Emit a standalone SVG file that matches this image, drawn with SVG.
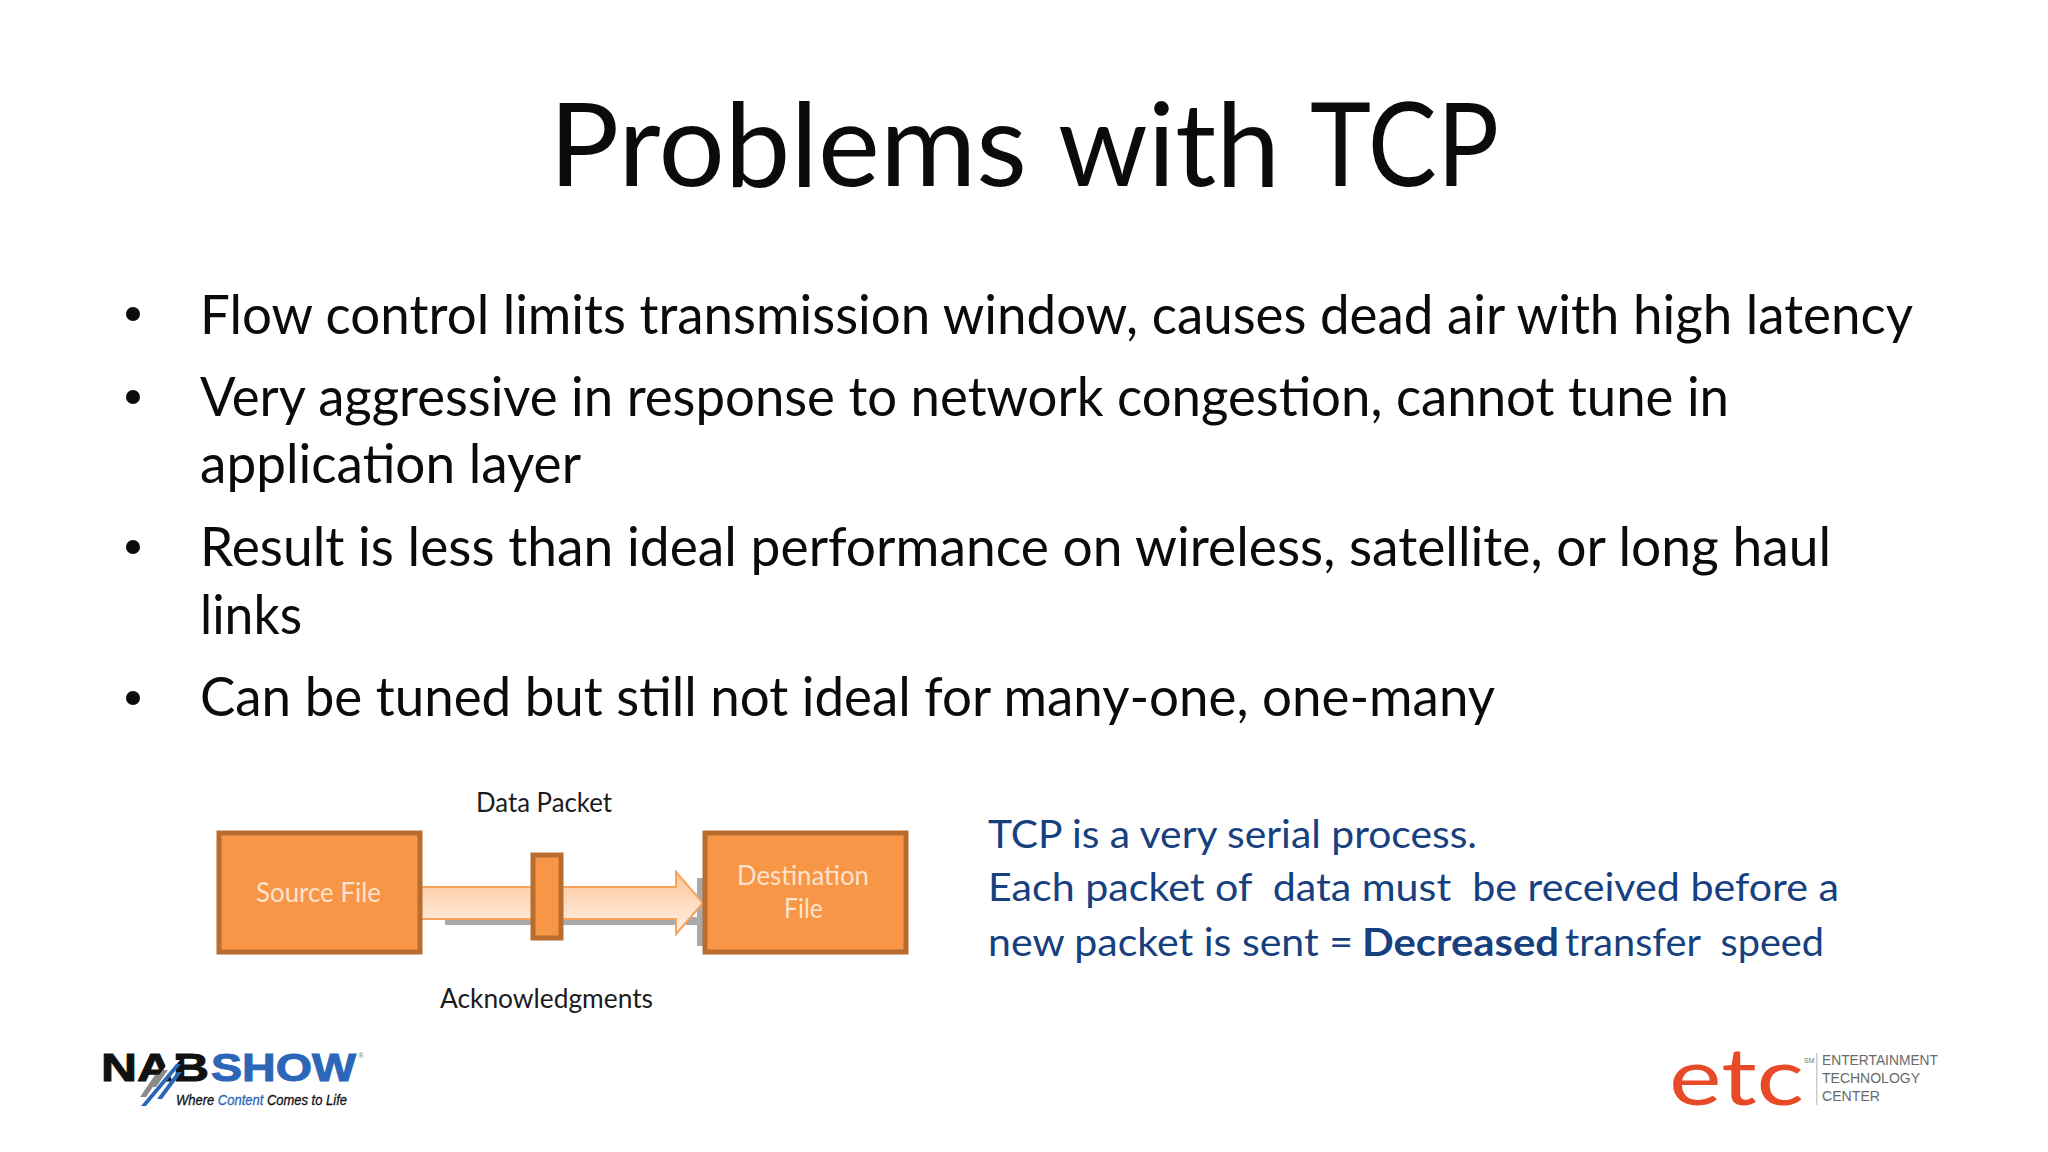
<svg xmlns="http://www.w3.org/2000/svg" width="2048" height="1152" viewBox="0 0 2048 1152">
<style>
text{font-family:Lato,"Open Sans","Liberation Sans",sans-serif}
.b{font-size:54px;fill:#0b0b0b}
.d{font-size:27px;fill:#1c1c1c}
.w{font-size:27px;fill:#fde3cc}
.s{font-size:39px;fill:#17407f}
.box{fill:#f79646;stroke:#b86c2e;stroke-width:5}
.e{font-size:15.500px;fill:#6a6a6a;font-family:"Liberation Sans",sans-serif}
.l{font-family:"Liberation Sans",sans-serif}
</style>
<defs>
<linearGradient id="ar" x1="0" y1="0" x2="0" y2="1"><stop offset="0" stop-color="#fbc596"/><stop offset="1" stop-color="#fff3e8"/></linearGradient>
</defs>
<rect width="2048" height="1152" fill="#fff"/>
<text y="186" font-size="117" fill="#0b0b0b"><tspan x="549" textLength="478" lengthAdjust="spacingAndGlyphs">Problems</tspan> <tspan x="1058" textLength="222" lengthAdjust="spacingAndGlyphs">with</tspan> <tspan x="1310" textLength="189" lengthAdjust="spacingAndGlyphs">TCP</tspan></text>
<g id="bullets">
<circle cx="133" cy="314" r="7" fill="#0b0b0b"/><circle cx="133" cy="397" r="7" fill="#0b0b0b"/><circle cx="133" cy="547" r="7" fill="#0b0b0b"/><circle cx="133" cy="698" r="7" fill="#0b0b0b"/>
<text class="b" x="200" y="334" textLength="1713" lengthAdjust="spacingAndGlyphs">Flow control limits transmission window, causes dead air with high latency</text>
<text class="b" x="200" y="416" textLength="1529" lengthAdjust="spacingAndGlyphs">Very aggressive in response to network congestion, cannot tune in</text>
<text class="b" x="200" y="483" textLength="381" lengthAdjust="spacingAndGlyphs">application layer</text>
<text class="b" x="200" y="566" textLength="1631" lengthAdjust="spacingAndGlyphs">Result is less than ideal performance on wireless, satellite, or long haul</text>
<text class="b" x="200" y="634" textLength="102" lengthAdjust="spacingAndGlyphs">links</text>
<text class="b" x="200" y="716" textLength="1295" lengthAdjust="spacingAndGlyphs">Can be tuned but still not ideal for many-one, one-many</text>
</g>
<g id="connectors">
<path d="M445 917H700V925H445Z" fill="#a9a9a9"/>
<path d="M697 878L704 878V946H697Z" fill="#a9a9a9"/>
<path d="M419 887H676V872L703 903L676 934V919H419Z" fill="url(#ar)" stroke="#f8a35c" stroke-width="2"/>
</g>
<g id="source-file">
<rect class="box" x="219" y="833" width="201" height="119"/>
<text class="w" x="256" y="902" textLength="125" lengthAdjust="spacingAndGlyphs">Source File</text>
</g>
<g id="data-packet">
<rect class="box" x="533" y="855" width="28" height="83"/>
<text class="d" x="476" y="812" textLength="136" lengthAdjust="spacingAndGlyphs">Data Packet</text>
</g>
<g id="destination-file">
<rect class="box" x="705" y="833" width="201" height="119"/>
<text class="w" x="737" y="885" textLength="132" lengthAdjust="spacingAndGlyphs">Destination</text>
<text class="w" x="784" y="918" textLength="39" lengthAdjust="spacingAndGlyphs">File</text>
</g>
<text class="d" x="440" y="1008" textLength="213" lengthAdjust="spacingAndGlyphs">Acknowledgments</text>
<g id="note">
<text class="s" x="988" y="848" textLength="489" lengthAdjust="spacingAndGlyphs">TCP is a very serial process.</text>
<text class="s" x="988" y="901" textLength="851" lengthAdjust="spacingAndGlyphs" xml:space="preserve">Each packet of  data must  be received before a</text>
<text class="s" x="988" y="956" textLength="365" lengthAdjust="spacingAndGlyphs">new packet is sent =</text>
<text class="s" x="1362" y="956" textLength="197" lengthAdjust="spacingAndGlyphs" font-weight="700">Decreased</text>
<text class="s" x="1565" y="956" textLength="259" lengthAdjust="spacingAndGlyphs" xml:space="preserve">transfer  speed</text>
</g>
<g id="nab-logo">
<text class="l" x="101" y="1081" font-size="39" font-weight="700" fill="#111" stroke="#111" stroke-width="1" textLength="108" lengthAdjust="spacingAndGlyphs">NAB</text>
<text class="l" x="211" y="1081" font-size="39" font-weight="700" fill="#2b66b8" stroke="#2b66b8" stroke-width="1" textLength="145" lengthAdjust="spacingAndGlyphs">SHOW</text>
<path d="M170 1060L180 1060L142 1106L138 1106Z" fill="#fff"/>
<path d="M140 1097L155 1075H161L146 1097Z" fill="#8a8a8a"/>
<path d="M150 1087L163 1070H168L156 1087Z" fill="#8a8a8a"/>
<path d="M141 1106L176 1064H181L146 1106Z" fill="#2b66b8"/>
<path d="M157 1099L177 1072H182L162 1099Z" fill="#2b66b8"/>
<text class="l" x="358" y="1058" font-size="8" fill="#888">®</text>
<text class="l" x="176" y="1105" font-size="14.500" font-style="italic" fill="#111" stroke="#111" stroke-width=".3" textLength="171" lengthAdjust="spacingAndGlyphs">Where <tspan fill="#2b66b8" stroke="#2b66b8">Content</tspan> Comes to Life</text>
</g>
<g id="etc-logo">
<text x="1669" y="1105" font-size="80" font-weight="400" fill="#e84a27" textLength="135" lengthAdjust="spacingAndGlyphs">etc</text>
<text class="l" x="1804" y="1063" font-size="7" fill="#777">SM</text>
<rect x="1816" y="1053" width="1.500" height="52" fill="#ccc"/>
<text class="e" x="1822" y="1065" textLength="116" lengthAdjust="spacingAndGlyphs">ENTERTAINMENT</text>
<text class="e" x="1822" y="1083" textLength="98" lengthAdjust="spacingAndGlyphs">TECHNOLOGY</text>
<text class="e" x="1822" y="1101" textLength="58" lengthAdjust="spacingAndGlyphs">CENTER</text>
</g>
</svg>
